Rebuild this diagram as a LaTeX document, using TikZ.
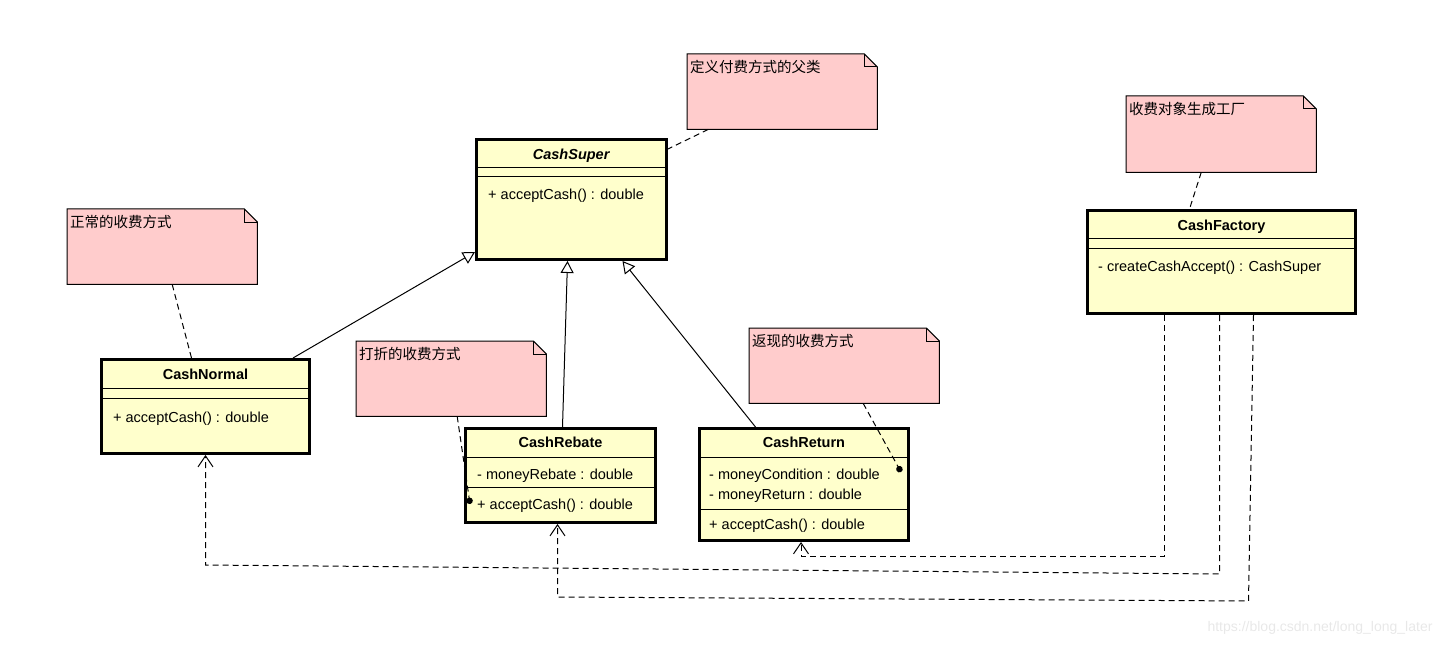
\documentclass[tikz,border=0pt]{standalone}
\usepackage{fontspec}
\setmainfont{Liberation Sans}
\newfontfamily\cjk{Noto Sans CJK SC}
\usetikzlibrary{positioning, arrows.meta, backgrounds}

\definecolor{classfill}{HTML}{FFFFCC}
\definecolor{notefill}{HTML}{FFCCCC}
\newcommand\umlsize{\fontsize{14.5}{17}\selectfont}

\tikzset{
  classbox/.style={draw, line width=3pt, fill=classfill, anchor=north west, inner sep=0pt},
  classname/.style={font=\umlsize\bfseries, inner sep=0pt, text height=10.5pt, text depth=3pt},
  member/.style={anchor=west, font=\umlsize, inner sep=0pt, text height=10.5pt, text depth=3pt},
  notebox/.style={anchor=north west, inner sep=0pt, minimum width=190pt, minimum height=75pt},
  notetext/.style={anchor=west, inner sep=0pt, font=\cjk\fontsize{14.5}{17}\selectfont, text height=11pt, text depth=0pt},
  sepline/.style={line width=1pt},
  inherit/.style={line width=1pt, -{Triangle[open, length=12pt, width=13pt, fill=white]}},
  depend/.style={line width=1pt, dash pattern=on 6pt off 4pt, -{Straight Barb[length=11pt, width=15pt]}},
  attach/.style={line width=1pt, dash pattern=on 6pt off 4pt},
}

\begin{document}
\begin{tikzpicture}[x=1pt, y=-1pt]
  \useasboundingbox (0,0) rectangle (1445,647);

  % notes
  \node[notebox] (noteSuper) at (687,54) {};
  \node[notetext] at ([xshift=3pt,yshift=-13pt]noteSuper.north west) {定义付费方式的父类};
  \node[notebox] (noteNormal) at (67,209) {};
  \node[notetext] at ([xshift=3pt,yshift=-13pt]noteNormal.north west) {正常的收费方式};
  \node[notebox] (noteRebate) at (356,341) {};
  \node[notetext] at ([xshift=3pt,yshift=-13pt]noteRebate.north west) {打折的收费方式};
  \node[notebox] (noteReturn) at (749,328) {};
  \node[notetext] at ([xshift=3pt,yshift=-13pt]noteReturn.north west) {返现的收费方式};
  \node[notebox, minimum height=76pt] (noteFactory) at (1126,96) {};
  \node[notetext] at ([xshift=3pt,yshift=-13pt]noteFactory.north west) {收费对象生成工厂};

  \begin{scope}[on background layer]
    \foreach \n in {noteSuper, noteNormal, noteRebate, noteReturn, noteFactory}{
      \filldraw[fill=notefill, line width=1pt] (\n.north west) -- ([xshift=-13pt]\n.north east)
        -- ([yshift=-13pt]\n.north east) -- (\n.south east) -- (\n.south west) -- cycle;
      \draw[line width=1pt] ([xshift=-13pt]\n.north east) |- ([yshift=-13pt]\n.north east);
    }
  \end{scope}

  % CashSuper
  \node[classbox, minimum width=190pt, minimum height=120pt] (cashSuper) at (475,138) {};
  \node[classname, below=11pt of cashSuper.north] {\textit{CashSuper}};
  \draw[sepline] ([yshift=-30pt]cashSuper.north west) -- ([yshift=-30pt]cashSuper.north east);
  \draw[sepline] ([yshift=-39pt]cashSuper.north west) -- ([yshift=-39pt]cashSuper.north east);
  \node[member] at ([xshift=13pt,yshift=-57.5pt]cashSuper.north west) {+ acceptCash() : double};

  % CashNormal
  \node[classbox, minimum width=208pt, minimum height=94pt] (cashNormal) at (100,358) {};
  \node[classname, below=11pt of cashNormal.north] {CashNormal};
  \draw[sepline] ([yshift=-30pt]cashNormal.north west) -- ([yshift=-30pt]cashNormal.north east);
  \draw[sepline] ([yshift=-40pt]cashNormal.north west) -- ([yshift=-40pt]cashNormal.north east);
  \node[member] at ([xshift=13pt,yshift=-60.5pt]cashNormal.north west) {+ acceptCash() : double};

  % CashRebate
  \node[classbox, minimum width=190pt, minimum height=94pt] (cashRebate) at (464,427) {};
  \node[classname, below=10pt of cashRebate.north] {CashRebate};
  \draw[sepline] ([yshift=-30pt]cashRebate.north west) -- ([yshift=-30pt]cashRebate.north east);
  \node[member] at ([xshift=13pt,yshift=-48.5pt]cashRebate.north west) {- moneyRebate : double};
  \draw[sepline] ([yshift=-60pt]cashRebate.north west) -- ([yshift=-60pt]cashRebate.north east);
  \node[member] at ([xshift=13pt,yshift=-78.5pt]cashRebate.north west) {+ acceptCash() : double};

  % CashReturn
  \node[classbox, minimum width=209pt, minimum height=112pt] (cashReturn) at (698,427) {};
  \node[classname, below=10pt of cashReturn.north] {CashReturn};
  \draw[sepline] ([yshift=-30pt]cashReturn.north west) -- ([yshift=-30pt]cashReturn.north east);
  \node[member] at ([xshift=11pt,yshift=-48.5pt]cashReturn.north west) {- moneyCondition : double};
  \node[member] at ([xshift=11pt,yshift=-68.5pt]cashReturn.north west) {- moneyReturn : double};
  \draw[sepline] ([yshift=-82pt]cashReturn.north west) -- ([yshift=-82pt]cashReturn.north east);
  \node[member] at ([xshift=11pt,yshift=-98.5pt]cashReturn.north west) {+ acceptCash() : double};

  % CashFactory
  \node[classbox, minimum width=268pt, minimum height=103pt] (cashFactory) at (1086,209) {};
  \node[classname, below=11pt of cashFactory.north] {CashFactory};
  \draw[sepline] ([yshift=-29pt]cashFactory.north west) -- ([yshift=-29pt]cashFactory.north east);
  \draw[sepline] ([yshift=-39pt]cashFactory.north west) -- ([yshift=-39pt]cashFactory.north east);
  \node[member] at ([xshift=12pt,yshift=-58.5pt]cashFactory.north west) {- createCashAccept() : CashSuper};

  % note links
  \draw[attach] ([xshift=-74pt]noteSuper.south) -- ([yshift=-11pt]cashSuper.north east);
  \draw[attach] ([xshift=10pt]noteNormal.south) -- ([xshift=-14pt]cashNormal.north);
  \draw[attach, -{Circle[length=6.5pt]}] ([xshift=6pt]noteRebate.south) -- ([xshift=6pt,yshift=-77pt]cashRebate.north west);
  \draw[attach, -{Circle[length=6.5pt]}] ([xshift=19pt]noteReturn.south) -- ([xshift=-9pt,yshift=-45pt]cashReturn.north east);
  \draw[attach] ([xshift=-20pt]noteFactory.south) -- ([xshift=-32pt]cashFactory.north);

  % generalization
  \draw[inherit] ([xshift=-18pt]cashNormal.north east) -- ([yshift=9pt]cashSuper.south west);
  \draw[inherit] ([xshift=2pt]cashRebate.north) -- ([xshift=-4pt]cashSuper.south);
  \draw[inherit] ([xshift=-48.5pt]cashReturn.north) -- ([xshift=51pt]cashSuper.south);

  % dependencies
  \draw[depend] ([xshift=-57pt]cashFactory.south) -- ++(0,241) -| ([xshift=-3pt]cashReturn.south);
  \draw[depend] ([xshift=-2pt]cashFactory.south) -- ++(0,259) -- ([yshift=-110pt]cashNormal.south) -- (cashNormal.south);
  \draw[depend] ([xshift=32pt]cashFactory.south) -- ([xshift=27pt,yshift=-286pt]cashFactory.south)
    -- ([xshift=-3pt,yshift=-73pt]cashRebate.south) -- ([xshift=-3pt]cashRebate.south);

  \node[anchor=east, text=black!9, font=\fontsize{14}{16}\selectfont] (watermark) at (1436,628) {https://blog.csdn.net/long\_long\_later};
\end{tikzpicture}
\end{document}
